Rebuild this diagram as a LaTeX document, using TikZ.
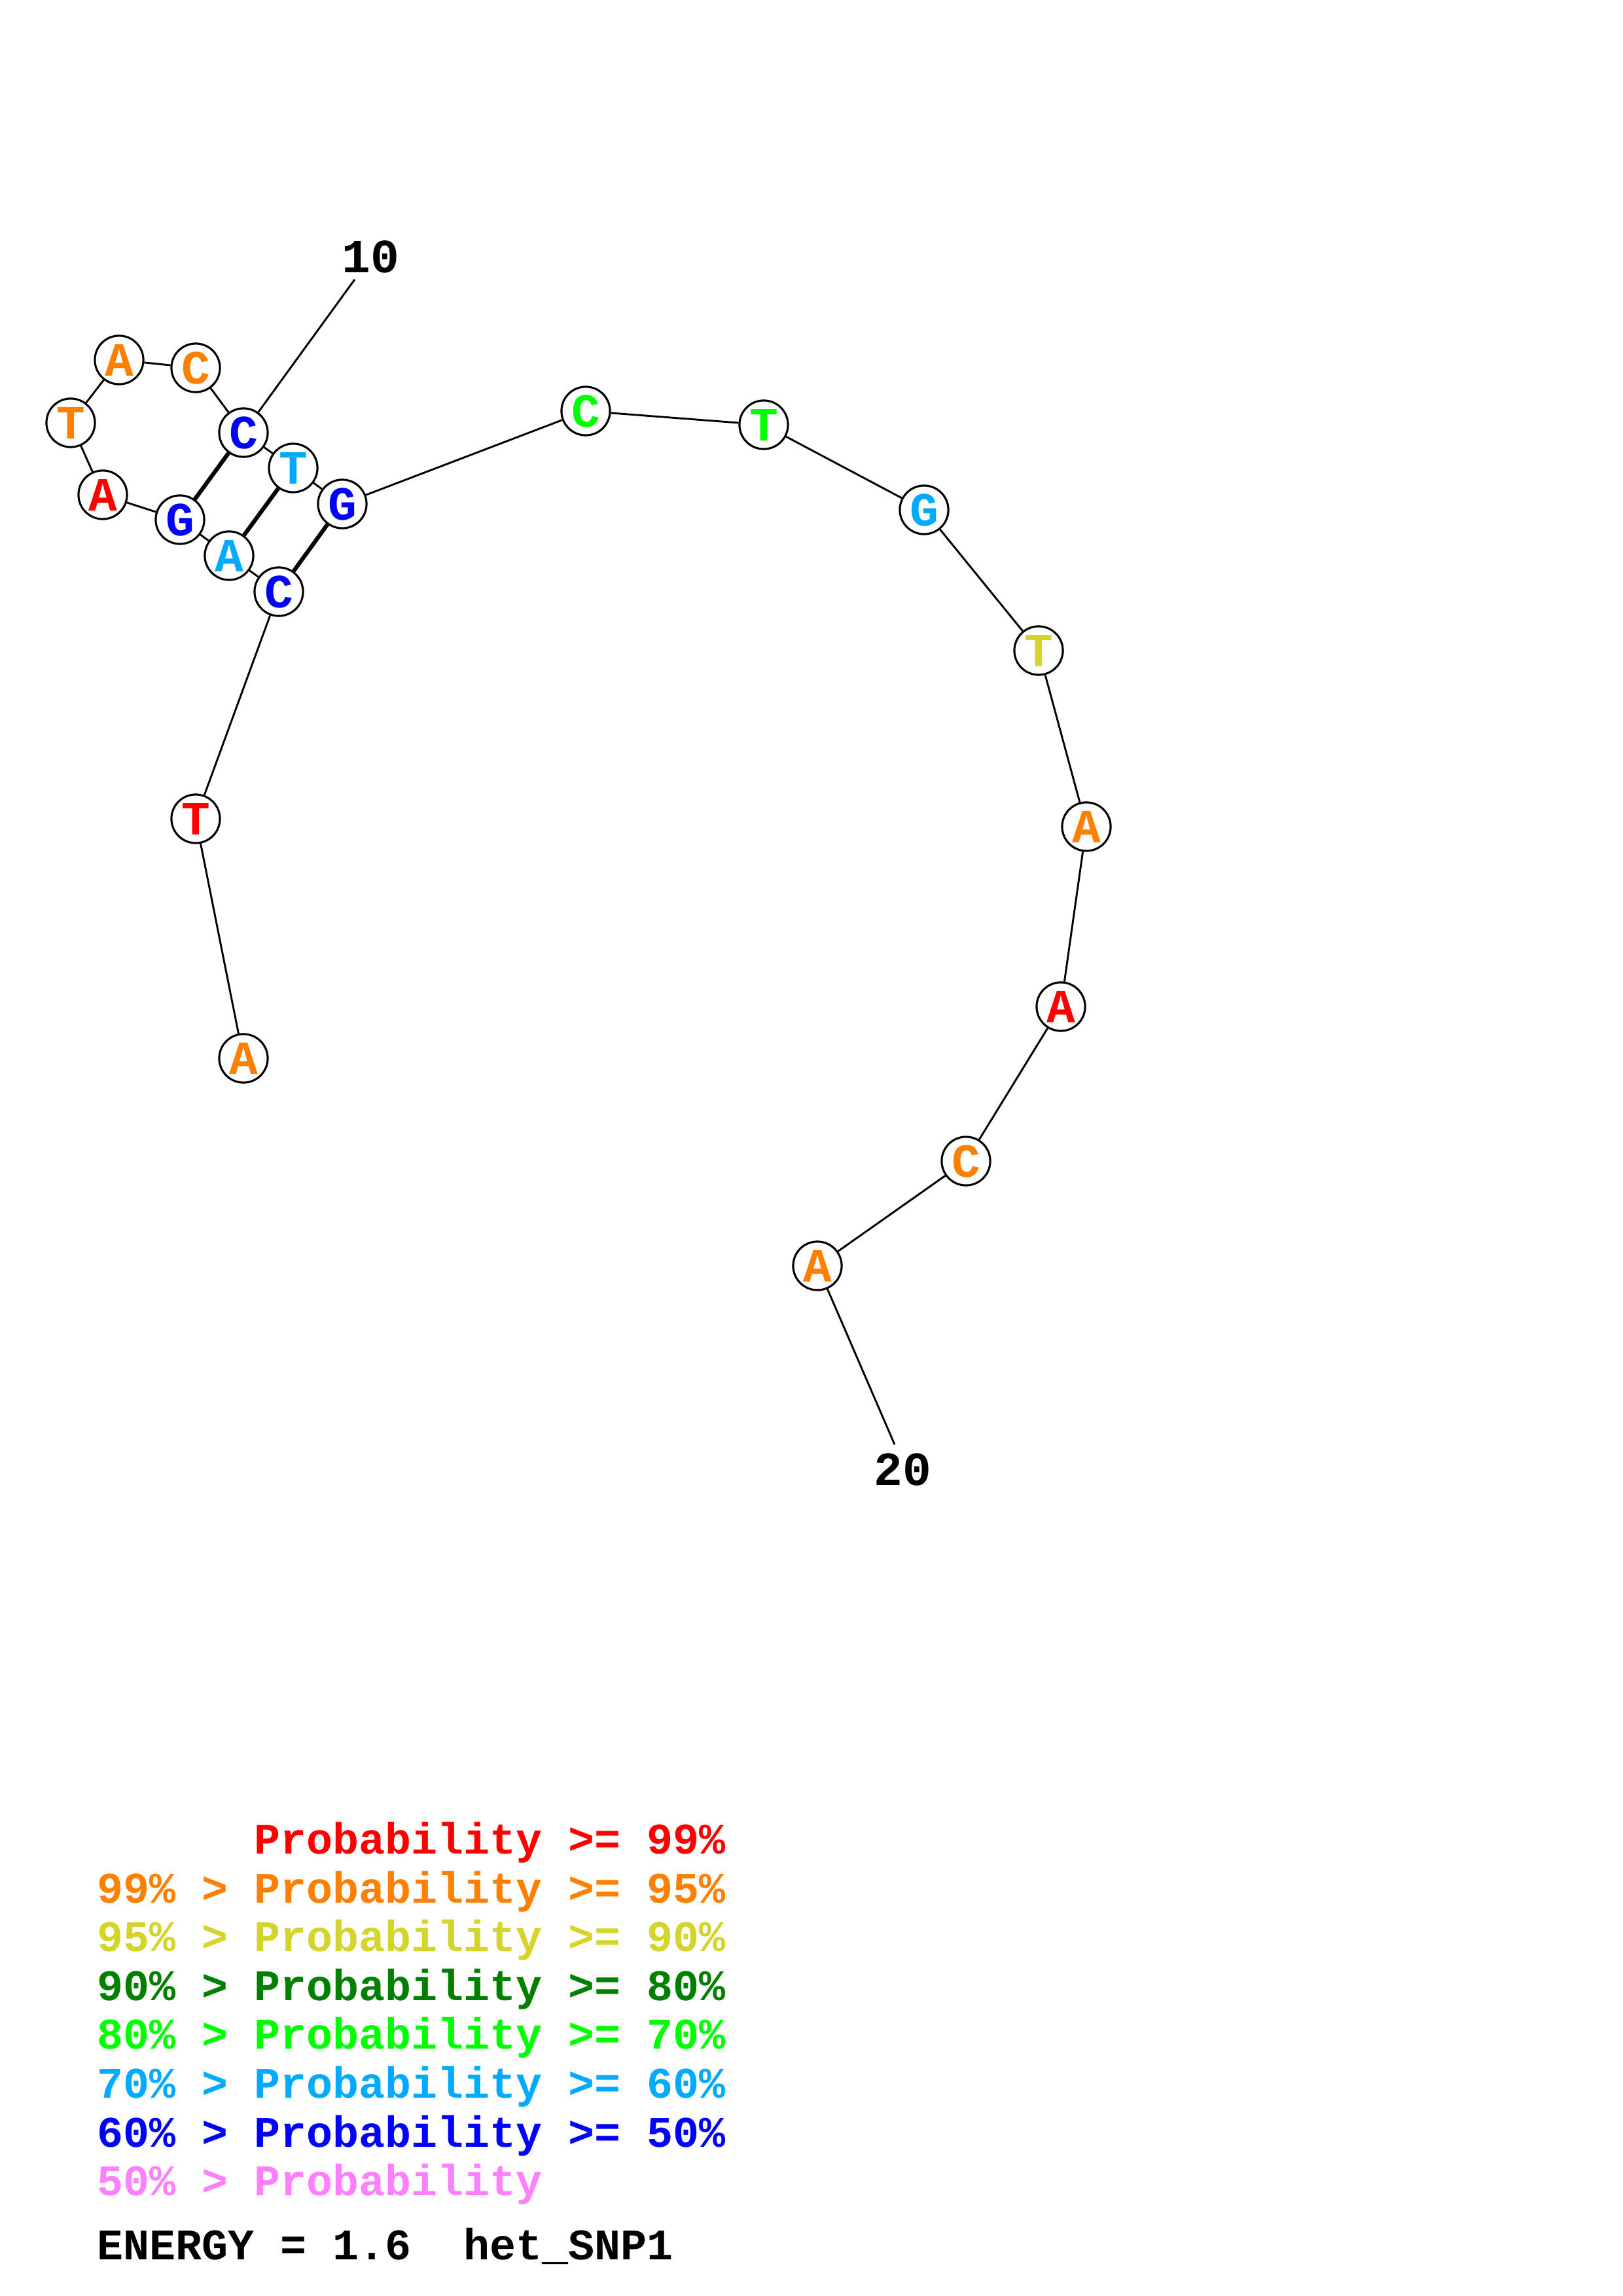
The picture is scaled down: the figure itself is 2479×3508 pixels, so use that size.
\documentclass[tikz,border=0pt]{standalone}
\usepackage{fontspec}
\setmonofont{Liberation Mono}
\usetikzlibrary{positioning}
\definecolor{ProbRed}{HTML}{FF0000}
\definecolor{ProbOrange}{HTML}{FF8000}
\definecolor{ProbYellow}{HTML}{D4D42A}
\definecolor{ProbDarkGreen}{HTML}{008000}
\definecolor{ProbGreen}{HTML}{00FF00}
\definecolor{ProbCyan}{HTML}{00AAFF}
\definecolor{ProbBlue}{HTML}{0000FF}
\definecolor{ProbPink}{HTML}{FF80FF}
\newcommand{\basefont}{\ttfamily\bfseries\fontsize{17.5}{18}\selectfont}
\newcommand{\legendfont}{\ttfamily\bfseries\fontsize{16}{18}\selectfont}

\begin{document}
\begin{tikzpicture}[
    x=0.24pt, y=-0.24pt,
    base/.style={circle, draw=black, fill=white, line width=0.75pt, minimum size=17.8pt, inner sep=0pt, font=\basefont},
    backbone/.style={draw=black, line width=0.7pt},
    pairline/.style={draw=black, line width=1.5pt},
    indexlabel/.style={font=\basefont, text=black, inner sep=0pt},
    legendline/.style={anchor=base west, inner sep=0pt, font=\legendfont}
]

\useasboundingbox (0,0) rectangle (2479,3508);
\fill[white] (0,0) rectangle (2479,3508);

% nucleotides
\node[base, text=ProbOrange] (n1) at (372,1617) {A};
\node[base, text=ProbRed] (n2) at (299,1251) {T};
\node[base, text=ProbBlue] (n3) at (426,904) {C};
\node[base, text=ProbCyan] (n4) at (350,849) {A};
\node[base, text=ProbBlue] (n5) at (275,794) {G};
\node[base, text=ProbRed] (n6) at (157,756) {A};
\node[base, text=ProbOrange] (n7) at (108,646) {T};
\node[base, text=ProbOrange] (n8) at (182,550) {A};
\node[base, text=ProbOrange] (n9) at (299,562) {C};
\node[base, text=ProbBlue] (n10) at (372,661) {C};
\node[base, text=ProbCyan] (n11) at (448,715) {T};
\node[base, text=ProbBlue] (n12) at (523,770) {G};
\node[base, text=ProbGreen] (n13) at (895,628) {C};
\node[base, text=ProbGreen] (n14) at (1167,649) {T};
\node[base, text=ProbCyan] (n15) at (1412,779) {G};
\node[base, text=ProbYellow] (n16) at (1587,994) {T};
\node[base, text=ProbOrange] (n17) at (1660,1263) {A};
\node[base, text=ProbRed] (n18) at (1621,1538) {A};
\node[base, text=ProbOrange] (n19) at (1476,1774) {C};
\node[base, text=ProbOrange] (n20) at (1249,1934) {A};

% backbone
\draw[backbone] (n1) -- (n2);
\draw[backbone] (n2) -- (n3);
\draw[backbone] (n3) -- (n4);
\draw[backbone] (n4) -- (n5);
\draw[backbone] (n5) -- (n6);
\draw[backbone] (n6) -- (n7);
\draw[backbone] (n7) -- (n8);
\draw[backbone] (n8) -- (n9);
\draw[backbone] (n9) -- (n10);
\draw[backbone] (n10) -- (n11);
\draw[backbone] (n11) -- (n12);
\draw[backbone] (n12) -- (n13);
\draw[backbone] (n13) -- (n14);
\draw[backbone] (n14) -- (n15);
\draw[backbone] (n15) -- (n16);
\draw[backbone] (n16) -- (n17);
\draw[backbone] (n17) -- (n18);
\draw[backbone] (n18) -- (n19);
\draw[backbone] (n19) -- (n20);

% base pairs
\draw[pairline] (n3) -- (n12);
\draw[pairline] (n4) -- (n11);
\draw[pairline] (n5) -- (n10);

% index ticks
\coordinate (tick10) at (542,427);
\coordinate (tick20) at (1367,2207);
\node[indexlabel] (lab10) at (566,392) {10};
\node[indexlabel] (lab20) at (1379,2245) {20};
\draw[backbone] (n10) -- (tick10);
\draw[backbone] (n20) -- (tick20);

% legend
\node[legendline, text=ProbRed] (leg1) at (148,2832) {\phantom{99\% > }Probability >= 99\%};
\node[legendline, text=ProbOrange] (leg2) at (148,2907) {99\% > Probability >= 95\%};
\node[legendline, text=ProbYellow] (leg3) at (148,2981) {95\% > Probability >= 90\%};
\node[legendline, text=ProbDarkGreen] (leg4) at (148,3056) {90\% > Probability >= 80\%};
\node[legendline, text=ProbGreen] (leg5) at (148,3130) {80\% > Probability >= 70\%};
\node[legendline, text=ProbCyan] (leg6) at (148,3205) {70\% > Probability >= 60\%};
\node[legendline, text=ProbBlue] (leg7) at (148,3280) {60\% > Probability >= 50\%};
\node[legendline, text=ProbPink] (leg8) at (148,3354) {50\% > Probability};
\node[legendline, text=black] (energy) at (148,3452) {ENERGY = 1.6\ \ het\_SNP1};

\end{tikzpicture}
\end{document}
